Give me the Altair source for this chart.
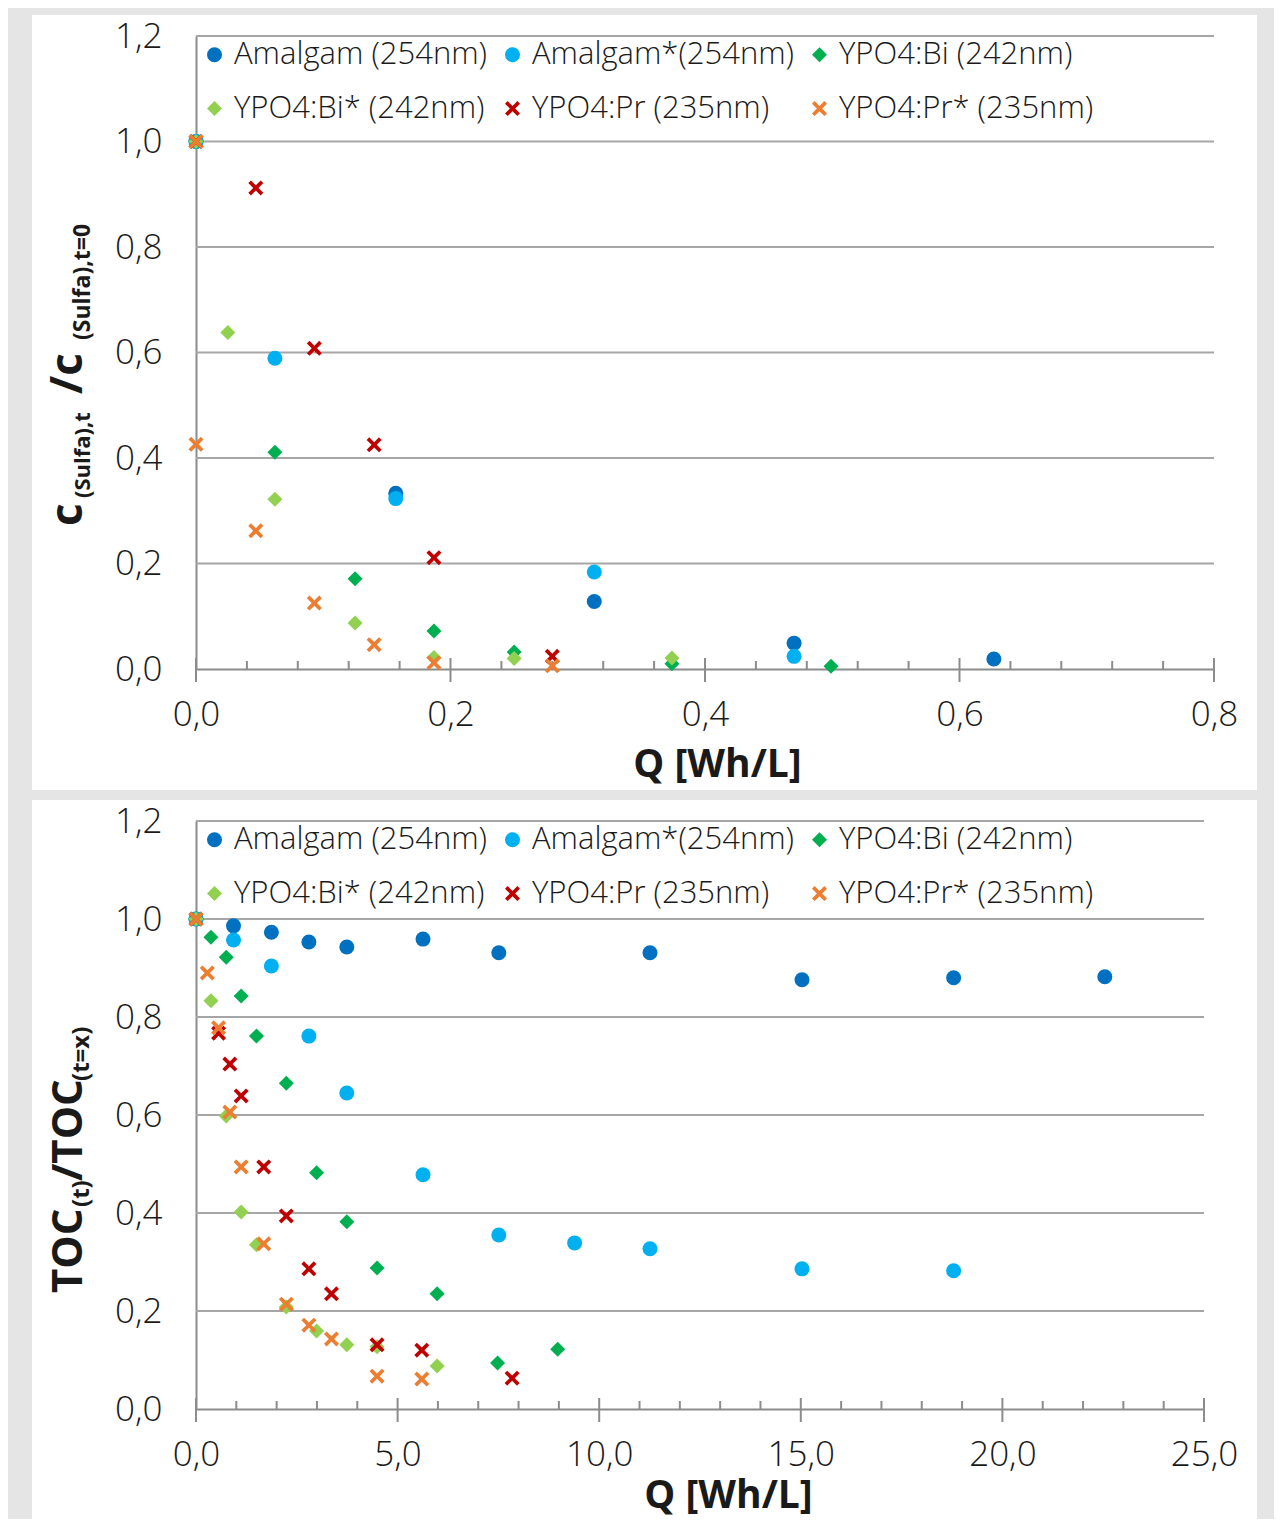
import altair as alt
import pandas as pd

FONT = "Open Sans"
TXT = "#1a1a1a"
AXC = "#8c8c8c"
GRIDC = "#a6a6a6"
PAGE_GRAY = "#e5e5e5"

SERIES = ["Amalgam (254nm)", "Amalgam*(254nm)", "YPO4:Bi (242nm)",
          "YPO4:Bi* (242nm)", "YPO4:Pr (235nm)", "YPO4:Pr* (235nm)"]
COLORS = ["#0070C0", "#00B0F0", "#00B050", "#92D050", "#C00000", "#ED7D31"]
XPATH = ("M-1,-0.65L-0.65,-1L0,-0.35L0.65,-1L1,-0.65L0.35,0L1,0.65L0.65,1"
         "L0,0.35L-0.65,1L-1,0.65L-0.35,0Z")
SHAPES = ["circle", "circle", "diamond", "diamond", XPATH, XPATH]
SIZES = [225, 225, 300, 300, 230, 230]

# ---- top chart: sulfa degradation vs Q ----
top_amal_x = [0, 0.157, 0.313, 0.470, 0.627]
top_amal_y = [1.0, 0.333, 0.128, 0.049, 0.019]
top_amals_x = [0, 0.062, 0.157, 0.313, 0.470]
top_amals_y = [1.0, 0.589, 0.323, 0.184, 0.024]
top_bi_x = [0, 0.062, 0.125, 0.187, 0.250, 0.374, 0.499]
top_bi_y = [1.0, 0.411, 0.171, 0.072, 0.032, 0.010, 0.005]
top_bis_x = [0, 0.025, 0.062, 0.125, 0.187, 0.250, 0.374]
top_bis_y = [1.0, 0.638, 0.322, 0.087, 0.022, 0.020, 0.021]
top_pr_x = [0, 0.047, 0.093, 0.140, 0.187, 0.280]
top_pr_y = [1.0, 0.912, 0.608, 0.425, 0.211, 0.024]
top_prs_x = [0, 0, 0.047, 0.093, 0.140, 0.187, 0.280]
top_prs_y = [1.0, 0.426, 0.262, 0.125, 0.046, 0.012, 0.006]

# ---- bottom chart: TOC vs Q ----
bot_amal_x = [0, 0.93, 1.87, 2.80, 3.74, 5.63, 7.51, 11.26, 15.03, 18.79, 22.54]
bot_amal_y = [1.0, 0.986, 0.973, 0.953, 0.943, 0.959, 0.931, 0.931, 0.876, 0.880, 0.882]
bot_amals_x = [0, 0.93, 1.87, 2.80, 3.74, 5.63, 7.51, 9.39, 11.26, 15.03, 18.79]
bot_amals_y = [1.0, 0.957, 0.904, 0.761, 0.645, 0.478, 0.355, 0.339, 0.327, 0.286, 0.282]
bot_bi_x = [0, 0.37, 0.75, 1.12, 1.50, 2.24, 2.99, 3.74, 4.49, 5.98, 7.48, 8.97]
bot_bi_y = [1.0, 0.963, 0.922, 0.843, 0.761, 0.665, 0.482, 0.382, 0.288, 0.235, 0.094, 0.122]
bot_bis_x = [0, 0.37, 0.75, 1.12, 1.50, 2.24, 2.99, 3.74, 4.49, 5.98]
bot_bis_y = [1.0, 0.833, 0.598, 0.402, 0.335, 0.208, 0.159, 0.131, 0.127, 0.088]
bot_pr_x = [0, 0.56, 0.84, 1.12, 1.68, 2.24, 2.80, 3.36, 4.49, 5.60, 7.84]
bot_pr_y = [1.0, 0.767, 0.704, 0.639, 0.494, 0.394, 0.286, 0.235, 0.131, 0.120, 0.063]
bot_prs_x = [0, 0.28, 0.56, 0.84, 1.12, 1.68, 2.24, 2.80, 3.36, 4.49, 5.60]
bot_prs_y = [1.0, 0.890, 0.778, 0.606, 0.494, 0.337, 0.214, 0.171, 0.143, 0.067, 0.061]

Y_TICKS = [0.0, 0.2, 0.4, 0.6, 0.8, 1.0, 1.2]
Y_GRID = [0.2, 0.4, 0.6, 0.8, 1.0, 1.2]
TOP_MAJOR = [0.0, 0.2, 0.4, 0.6, 0.8]
TOP_MINOR = [0.04, 0.08, 0.12, 0.16, 0.24, 0.28, 0.32, 0.36, 0.44, 0.48, 0.52,
             0.56, 0.64, 0.68, 0.72, 0.76]
BOT_MAJOR = [0, 5, 10, 15, 20, 25]
BOT_MINOR = [1, 2, 3, 4, 6, 7, 8, 9, 11, 12, 13, 14, 16, 17, 18, 19, 21, 22, 23, 24]


def frame(xs_list, ys_list):
    rows = []
    k = 0
    for name, xs, ys in zip(SERIES, xs_list, ys_list):
        for xv, yv in zip(xs, ys):
            rows.append({"series": name, "q": xv, "r": yv, "idx": k})
            k += 1
    return pd.DataFrame(rows)


top_df = frame([top_amal_x, top_amals_x, top_bi_x, top_bis_x, top_pr_x, top_prs_x],
               [top_amal_y, top_amals_y, top_bi_y, top_bis_y, top_pr_y, top_prs_y])
bot_df = frame([bot_amal_x, bot_amals_x, bot_bi_x, bot_bis_x, bot_pr_x, bot_prs_x],
               [bot_amal_y, bot_amals_y, bot_bi_y, bot_bis_y, bot_pr_y, bot_prs_y])

LABEL_EXPR = "replace(format(datum.value, '.1f'), '.', ',')"


def strip(one, x1, x2, y1, y2):
    return alt.Chart(one).mark_rect(color=PAGE_GRAY).encode(
        x=alt.value(x1), x2=alt.value(x2), y=alt.value(y1), y2=alt.value(y2))


def panel(df, xmax, major, minor, W, H, strips, title_parts, xtitle_x, xtitle_y):
    one = alt.Data(values=[{"k": 0}])
    xs = alt.Scale(domain=[0, xmax], nice=False, zero=True)
    ys = alt.Scale(domain=[0, 1.2], nice=False)

    bgs = [strip(one, *s) for s in strips]

    grid = alt.Chart(pd.DataFrame({"r": Y_GRID})).mark_rule(
        color=GRIDC, strokeWidth=2).encode(
        y=alt.Y("r:Q", scale=ys), x=alt.value(0), x2=alt.value(W))

    minor_t = alt.Chart(pd.DataFrame({"q": minor})).mark_rule(
        color=AXC, strokeWidth=2).encode(
        x=alt.X("q:Q", scale=xs), y=alt.value(H - 8), y2=alt.value(H))

    major_t = alt.Chart(pd.DataFrame({"q": major})).mark_rule(
        color=AXC, strokeWidth=2).encode(
        x=alt.X("q:Q", scale=xs), y=alt.value(H - 11), y2=alt.value(H + 13))

    texts = []
    for txt, px, py, fs in title_parts:
        texts.append(alt.Chart(one).mark_text(
            text=txt, angle=270, align="left", baseline="alphabetic",
            font=FONT, fontSize=fs, fontWeight="bold", color=TXT).encode(
            x=alt.value(px), y=alt.value(py)))

    leg = alt.Legend(
        orient="none", legendX=3, legendY=3, columns=3, direction="horizontal",
        title=None, labelFont=FONT, labelFontSize=31, labelFontWeight=300,
        labelColor=TXT, symbolSize=110, symbolStrokeWidth=0, rowPadding=22,
        columnPadding=9, labelOffset=4, padding=0, labelLimit=500)

    pts = alt.Chart(df).mark_point(filled=True, opacity=1, strokeWidth=0).encode(
        x=alt.X("q:Q", scale=xs, axis=alt.Axis(
            title="Q [Wh/L]", values=major, labelExpr=LABEL_EXPR, grid=False,
            ticks=False, tickSize=0, domain=True, domainColor=AXC, domainWidth=2,
            labelFont=FONT, labelFontSize=35, labelFontWeight=300, labelColor=TXT,
            labelPadding=28, labelFlush=False, labelOverlap=False,
            titleFont=FONT, titleFontSize=39, titleFontWeight="bold", titleColor=TXT,
            titleX=xtitle_x, titleY=xtitle_y, titleBaseline="alphabetic",
            titleAlign="center")),
        y=alt.Y("r:Q", scale=ys, axis=alt.Axis(
            title="", values=Y_TICKS, labelExpr=LABEL_EXPR, grid=False,
            ticks=False, tickSize=0, domain=True, domainColor=AXC, domainWidth=2,
            labelFont=FONT, labelFontSize=35, labelFontWeight=300, labelColor=TXT,
            labelPadding=34, labelFlush=False, labelOverlap=False)),
        color=alt.Color("series:N", scale=alt.Scale(domain=SERIES, range=COLORS), legend=leg),
        shape=alt.Shape("series:N", scale=alt.Scale(domain=SERIES, range=SHAPES), legend=leg),
        size=alt.Size("series:N", scale=alt.Scale(domain=SERIES, range=SIZES), legend=None),
        order=alt.Order("idx:Q"),
    )

    return alt.layer(*bgs, grid, minor_t, major_t, *texts, pts).properties(width=W, height=H)


# top plot origin on page: (196, 36); bottom plot origin: (196, 821)
top = panel(top_df, 0.8, TOP_MAJOR, TOP_MINOR, 1018, 633,
            [(-188, -164, -28, 764), (1061, 1078, -28, 764),
             (-188, 1078, -28, -21), (-188, 1078, 754, 764)],
            [("c", -114, 490, 44), ("(Sulfa),t", -106, 462, 22),
             ("/c", -114, 358, 44), ("(Sulfa),t=0", -106, 304, 23)],
            521, 107)
bottom = panel(bot_df, 25, BOT_MAJOR, BOT_MINOR, 1008, 588,
               [(-188, -164, -21, 698), (1061, 1078, -21, 698)],
               [("TOC", -114, 472, 42), ("(t)", -107, 386, 24),
                ("/TOC", -114, 360, 42), ("(t=x)", -107, 260, 24)],
               532, 98)

chart = alt.vconcat(top, bottom, spacing=0).resolve_scale(
    x="independent", y="independent", color="independent",
    shape="independent", size="independent").resolve_legend(
    color="independent", shape="independent").properties(
    background="white",
    padding={"left": 0, "top": 0, "right": 0, "bottom": 0}).configure_view(
    strokeWidth=0)

chart.save("out.html", embed_options={"renderer": "svg", "actions": False})
